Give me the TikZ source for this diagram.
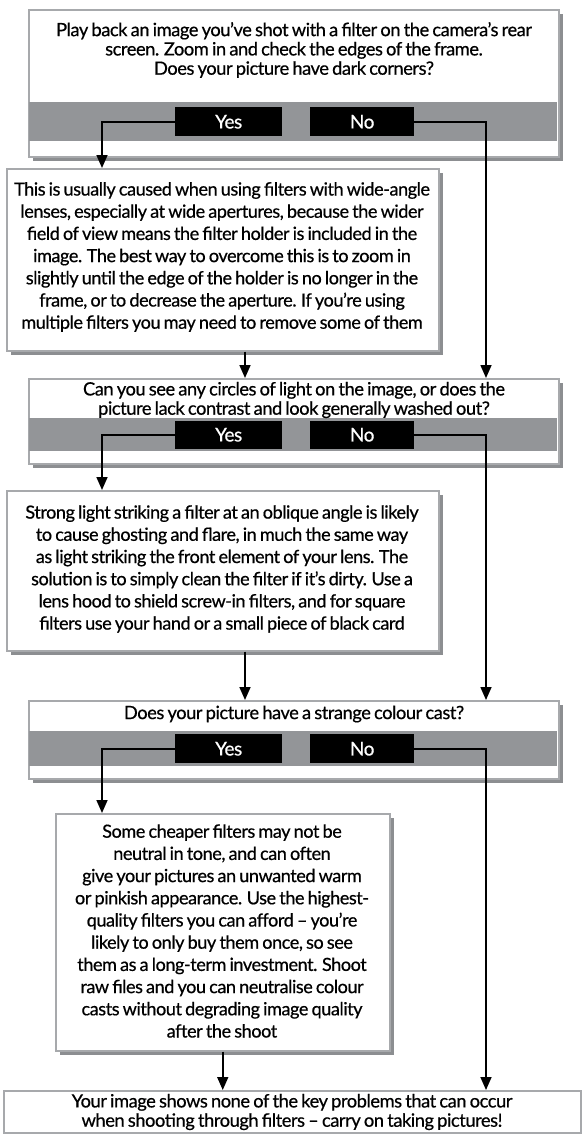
\documentclass[tikz,border=0pt]{standalone}
\usepackage{fontspec}
\setmainfont{Lato}[WordSpace=0.75, LetterSpace=-2.5, FakeBold=0.6]
\usetikzlibrary{arrows.meta,shadows}
\definecolor{rimgray}{HTML}{A7A9AC}
\definecolor{bandgray}{HTML}{939598}
\definecolor{shadegray}{HTML}{8C8E91}
\begin{document}
\begin{tikzpicture}[x=1pt,y=-1pt,
  panel/.style={draw=rimgray, line width=1.5pt, fill=white, anchor=north west,
    inner sep=0pt, drop shadow={shadow xshift=4pt, shadow yshift=-4pt, fill=shadegray, opacity=1}},
  band/.style={fill=bandgray, anchor=north west, inner sep=0pt},
  tag/.style={fill=black, text=white, anchor=north west, inner sep=0pt,
    font=\fontsize{19}{21}\selectfont},
  query/.style={align=center, inner sep=0pt, font=\fontsize{18.3}{19.3}\selectfont},
  body/.style={align=center, inner sep=0pt, font=\fontsize{18.1}{22.2}\selectfont},
  conn/.style={line width=1.6pt, -{Triangle[length=13pt,width=11pt]}}]
\useasboundingbox (0,0) rectangle (583,1135);

% column guides for the connectors
\coordinate (lcol) at (102,0);
\coordinate (rcol) at (486,0);
\coordinate (mcol) at (245,0);

% question 1
\node[panel, minimum width=530pt, minimum height=147pt] (q1) at (28,9) {};
\node[band, minimum width=528.5pt, minimum height=39pt] (b1) at (28.75,102) {};
\node[tag, minimum width=107pt, minimum height=29pt] (y1) at (175,107) {Yes};
\node[tag, minimum width=104pt, minimum height=29pt] (n1) at (310,107) {No};
\node[query] (t1) at (294,50) {Play back an image you’ve shot with a filter on the camera’s rear\\
  screen. Zoom in and check the edges of the frame.\\ Does your picture have dark corners?};

% explanation 1
\node[panel, minimum width=432pt, minimum height=182pt] (e1) at (6,168) {};
\node[body] (t2) at (222,257) {This is usually caused when using filters with wide-angle\\
  lenses, especially at wide apertures, because the wider\\
  field of view means the filter holder is included in the\\
  image. The best way to overcome this is to zoom in\\
  slightly until the edge of the holder is no longer in the\\
  frame, or to decrease the aperture. If you’re using\\
  multiple filters you may need to remove some of them};

% question 2
\node[panel, minimum width=530pt, minimum height=85pt] (q2) at (28,378) {};
\node[band, minimum width=528.5pt, minimum height=33pt] (b2) at (28.75,418) {};
\node[tag, minimum width=107pt, minimum height=28pt] (y2) at (175,420.5) {Yes};
\node[tag, minimum width=104pt, minimum height=28pt] (n2) at (310,420.5) {No};
\node[query] (t3) at (294,400) {Can you see any circles of light on the image, or does the\\
  picture lack contrast and look generally washed out?};

% explanation 2
\node[panel, minimum width=432pt, minimum height=160pt] (e2) at (6,490) {};
\node[body] (t4) at (222,569) {Strong light striking a filter at an oblique angle is likely\\
  to cause ghosting and flare, in much the same way\\
  as light striking the front element of your lens. The\\
  solution is to simply clean the filter if it’s dirty. Use a\\
  lens hood to shield screw-in filters, and for square\\
  filters use your hand or a small piece of black card};

% question 3
\node[panel, minimum width=530pt, minimum height=78pt] (q3) at (28,700) {};
\node[band, minimum width=528.5pt, minimum height=35pt] (b3) at (28.75,731) {};
\node[tag, minimum width=107pt, minimum height=29pt] (y3) at (175,734) {Yes};
\node[tag, minimum width=104pt, minimum height=29pt] (n3) at (310,734) {No};
\node[query] (t5) at (294,714) {Does your picture have a strange colour cast?};

% explanation 3
\node[panel, minimum width=334pt, minimum height=237pt] (e3) at (55,813) {};
\node[body] (t6) at (222,931) {Some cheaper filters may not be\\
  neutral in tone, and can often\\
  give your pictures an unwanted warm\\
  or pinkish appearance. Use the highest-\\
  quality filters you can afford – you’re\\
  likely to only buy them once, so see\\
  them as a long-term investment. Shoot\\
  raw files and you can neutralise colour\\
  casts without degrading image quality\\
  after the shoot};

% final box
\node[draw=rimgray, line width=1.5pt, fill=white, anchor=north west, inner sep=0pt,
  minimum width=577pt, minimum height=42pt] (fin) at (3,1090) {};
\node[query] (t7) at (292,1112) {Your image shows none of the key problems that can occur\\
  when shooting through filters – carry on taking pictures!};

% connectors
\draw[conn] (y1.west) -| (lcol |- e1.north);
\draw[conn] (n1.east) -| (rcol |- q2.north);
\draw[conn] (e1.south -| mcol) -- (mcol |- q2.north);
\draw[conn] (y2.west) -| (lcol |- e2.north);
\draw[conn] (n2.east) -| (rcol |- q3.north);
\draw[conn] (e2.south -| mcol) -- (mcol |- q3.north);
\draw[conn] (y3.west) -| (lcol |- e3.north);
\draw[conn] (n3.east) -| (rcol |- fin.north);
\draw[conn] (e3.south) -- (e3.south |- fin.north);
\end{tikzpicture}
\end{document}
